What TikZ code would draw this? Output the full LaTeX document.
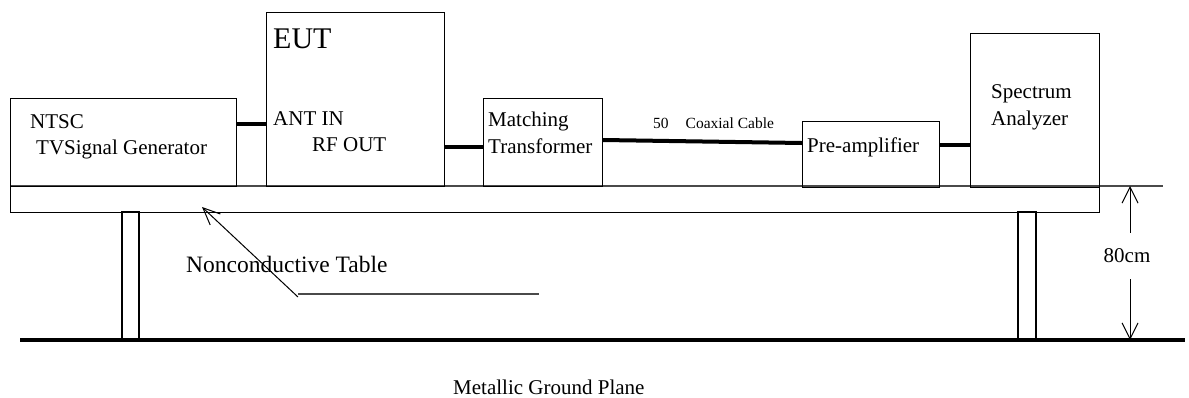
\documentclass[tikz,border=0pt]{standalone}
\usepackage{fontspec}
\setmainfont{Liberation Serif}
\usepackage{tikz}
\usetikzlibrary{arrows.meta,positioning}
\usepackage{xcolor}
\definecolor{setupink}{HTML}{000000}
\definecolor{setupgray}{HTML}{4A4A4A}
\tikzset{
  devbox/.style={
    draw=setupink,
    line width=1.2pt,
    anchor=north west,
    inner sep=0pt
  },
  lbl/.style={
    anchor=base west,
    inner sep=0pt,
    font=\fontsize{21}{25}\selectfont
  },
  cable/.style={
    line width=4pt,
    draw=setupink
  },
  pointer/.style={
    -{Straight Barb[length=17pt,width=15pt]},
    line width=1pt
  },
  dimarrow/.style={
    -{Straight Barb[length=16pt,width=16pt]},
    line width=1pt
  }
}

\begin{document}
\begin{tikzpicture}[x=1pt,y=-1pt]
\useasboundingbox (0,0) rectangle (1189,397);
% table and legs
\foreach \lx/\rx in {122/139,1018/1036} {
  \draw[line width=1.2pt] (\lx,212) rectangle (\rx,340);
}
\node[devbox, minimum width=1089pt, minimum height=26pt] (table) at (10,186) {};
\coordinate (dimtop) at (1163,186);
\draw[setupgray, line width=1.5pt] (table.north west) -- (dimtop);
% ground plane
\coordinate (gndl) at (20,340);
\coordinate (gndr) at (1185,340);
\draw[line width=4pt] (gndl) -- (gndr);
% equipment
\node[devbox, minimum width=226pt, minimum height=88pt] (ntsc) at (10,98) {};
\node[devbox, minimum width=178pt, minimum height=174pt] (eut) at (266,12) {};
\node[devbox, minimum width=119pt, minimum height=88pt] (match) at (483,98) {};
\node[devbox, minimum width=137pt, minimum height=66pt] (pre) at (802,121) {};
\node[devbox, minimum width=129pt, minimum height=154pt] (sa) at (970,33) {};
% labels
\node[lbl] (ntsctxt) at (30,128) {NTSC};
\node[lbl] (gentxt) at (36,154) {TVSignal Generator};
\node[lbl, font=\fontsize{30}{34}\selectfont] (euttxt) at (273,48) {EUT};
\node[lbl] (antin) at (273,125) {ANT IN};
\node[lbl] (rfout) at (312,151) {RF OUT};
\node[lbl] (matchtxt) at (488,126) {Matching};
\node[lbl] (transtxt) at (488,153) {Transformer};
\node[lbl, font=\fontsize{15.5}{18}\selectfont] (coaxtxt) at (653,128) {50\hspace{17pt}Coaxial Cable};
\node[lbl] (pretxt) at (807,152) {Pre-amplifier};
\node[lbl] (spectxt) at (991,98) {Spectrum};
\node[lbl] (anatxt) at (991,125) {Analyzer};
\node[lbl, font=\fontsize{23.5}{28}\selectfont] (tabletxt) at (186,272) {Nonconductive Table};
\node[lbl] (gndtxt) at (453,394) {Metallic Ground Plane};
% cables
\draw[cable] (ntsc.east |- 0,124) -- (eut.west |- 0,124);
\draw[cable] (eut.east |- 0,147) -- (match.west |- 0,147);
\draw[cable] (match.east |- 0,140) -- (pre.west |- 0,143);
\draw[cable] (pre.east |- 0,145) -- (sa.west |- 0,145);
% pointer to table
\coordinate (leadA) at (298,297);
\coordinate (leadB) at (539,294);
\coordinate (tabletip) at (202,207);
\draw[setupgray, line width=1.5pt] (leadA |- leadB) -- (leadB);
\draw[pointer] (leadA) -- (tabletip);
% height dimension
\coordinate (dimhi) at (1130,186);
\coordinate (dimlo) at (1130,340);
\node[inner sep=0pt, minimum height=46pt, font=\fontsize{21}{25}\selectfont] (height) at (1127,256) {80cm};
\draw[dimarrow] (height.north -| dimhi) -- (dimhi);
\draw[dimarrow] (height.south -| dimlo) -- (dimlo);
\end{tikzpicture}
\end{document}
